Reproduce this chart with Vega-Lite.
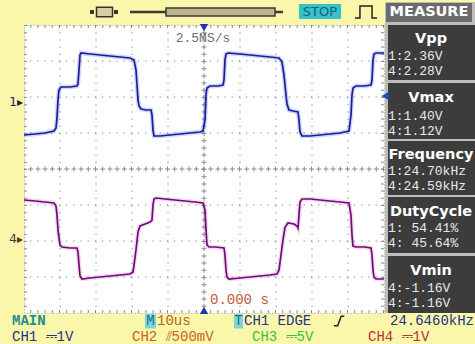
{
"$schema": "https://vega.github.io/schema/vega-lite/v6.json",
"width": 360, "height": 288,
"autosize": {"type": "none"},
"padding": {"left": 24, "top": 25, "right": 91, "bottom": 31},
"background": "#FAF7AA",
"config": {
  "view": {"fill": "#FFFFFF", "stroke": "#9a9a9a", "strokeDash": [1, 2]},
  "axis": {"grid": false, "labels": false, "ticks": false, "domain": false}
},
"data": {"values": [{"annotation": "single"}]},
"datasets": {
"wave": [
{"ch":"CH1","t":-50,"v":0.944},{"ch":"CH1","t":-46.94,"v":0.972},{"ch":"CH1","t":-44.17,"v":1.0},{"ch":"CH1","t":-41.67,"v":1.056},{"ch":"CH1","t":-41.11,"v":1.139},{"ch":"CH1","t":-40.83,"v":1.417},{"ch":"CH1","t":-40.56,"v":1.917},{"ch":"CH1","t":-40.28,"v":2.194},{"ch":"CH1","t":-39.72,"v":2.278},{"ch":"CH1","t":-37.22,"v":2.278},{"ch":"CH1","t":-35.28,"v":2.306},{"ch":"CH1","t":-35.0,"v":2.361},{"ch":"CH1","t":-34.72,"v":2.75},{"ch":"CH1","t":-34.44,"v":3.167},{"ch":"CH1","t":-34.17,"v":3.222},{"ch":"CH1","t":-31.67,"v":3.194},{"ch":"CH1","t":-28.89,"v":3.167},{"ch":"CH1","t":-26.11,"v":3.139},{"ch":"CH1","t":-23.33,"v":3.111},{"ch":"CH1","t":-20.56,"v":3.083},{"ch":"CH1","t":-19.44,"v":3.028},{"ch":"CH1","t":-18.89,"v":2.75},{"ch":"CH1","t":-18.61,"v":2.333},{"ch":"CH1","t":-18.33,"v":1.917},{"ch":"CH1","t":-18.06,"v":1.75},{"ch":"CH1","t":-17.5,"v":1.667},{"ch":"CH1","t":-16.11,"v":1.639},{"ch":"CH1","t":-14.72,"v":1.639},{"ch":"CH1","t":-14.44,"v":1.5},{"ch":"CH1","t":-14.17,"v":1.083},{"ch":"CH1","t":-13.89,"v":0.917},{"ch":"CH1","t":-12.22,"v":0.917},{"ch":"CH1","t":-9.44,"v":0.944},{"ch":"CH1","t":-6.67,"v":0.972},{"ch":"CH1","t":-3.89,"v":1.0},{"ch":"CH1","t":-1.11,"v":1.028},{"ch":"CH1","t":-0.28,"v":1.056},{"ch":"CH1","t":0.28,"v":1.361},{"ch":"CH1","t":0.56,"v":2.056},{"ch":"CH1","t":0.83,"v":2.25},{"ch":"CH1","t":1.67,"v":2.306},{"ch":"CH1","t":3.89,"v":2.306},{"ch":"CH1","t":5.28,"v":2.333},{"ch":"CH1","t":5.56,"v":2.472},{"ch":"CH1","t":5.83,"v":3.028},{"ch":"CH1","t":6.11,"v":3.194},{"ch":"CH1","t":6.67,"v":3.222},{"ch":"CH1","t":10.0,"v":3.194},{"ch":"CH1","t":12.78,"v":3.167},{"ch":"CH1","t":15.56,"v":3.139},{"ch":"CH1","t":18.33,"v":3.111},{"ch":"CH1","t":20.83,"v":3.083},{"ch":"CH1","t":21.67,"v":2.972},{"ch":"CH1","t":22.22,"v":2.611},{"ch":"CH1","t":22.78,"v":2.056},{"ch":"CH1","t":23.06,"v":1.806},{"ch":"CH1","t":23.61,"v":1.639},{"ch":"CH1","t":24.72,"v":1.611},{"ch":"CH1","t":26.11,"v":1.583},{"ch":"CH1","t":26.39,"v":1.361},{"ch":"CH1","t":26.67,"v":1.028},{"ch":"CH1","t":27.22,"v":0.917},{"ch":"CH1","t":29.44,"v":0.917},{"ch":"CH1","t":32.22,"v":0.944},{"ch":"CH1","t":35.0,"v":0.972},{"ch":"CH1","t":37.78,"v":1.0},{"ch":"CH1","t":40.28,"v":1.056},{"ch":"CH1","t":40.83,"v":1.5},{"ch":"CH1","t":41.11,"v":2.056},{"ch":"CH1","t":41.39,"v":2.25},{"ch":"CH1","t":42.22,"v":2.306},{"ch":"CH1","t":44.44,"v":2.306},{"ch":"CH1","t":46.39,"v":2.333},{"ch":"CH1","t":46.67,"v":2.472},{"ch":"CH1","t":46.94,"v":3.028},{"ch":"CH1","t":47.22,"v":3.194},{"ch":"CH1","t":47.78,"v":3.222},{"ch":"CH1","t":50.0,"v":3.222},
{"ch":"CH4","t":-50,"v":-0.861},{"ch":"CH4","t":-46.94,"v":-0.889},{"ch":"CH4","t":-44.17,"v":-0.917},{"ch":"CH4","t":-41.67,"v":-0.944},{"ch":"CH4","t":-41.11,"v":-1.028},{"ch":"CH4","t":-40.83,"v":-1.278},{"ch":"CH4","t":-40.56,"v":-1.694},{"ch":"CH4","t":-40.0,"v":-2.111},{"ch":"CH4","t":-39.44,"v":-2.167},{"ch":"CH4","t":-37.22,"v":-2.194},{"ch":"CH4","t":-35.28,"v":-2.194},{"ch":"CH4","t":-35.0,"v":-2.306},{"ch":"CH4","t":-34.72,"v":-2.667},{"ch":"CH4","t":-34.44,"v":-2.972},{"ch":"CH4","t":-33.89,"v":-3.056},{"ch":"CH4","t":-31.67,"v":-3.028},{"ch":"CH4","t":-28.89,"v":-3.0},{"ch":"CH4","t":-26.11,"v":-2.972},{"ch":"CH4","t":-23.33,"v":-2.944},{"ch":"CH4","t":-20.56,"v":-2.917},{"ch":"CH4","t":-19.72,"v":-2.861},{"ch":"CH4","t":-19.44,"v":-2.667},{"ch":"CH4","t":-18.89,"v":-2.25},{"ch":"CH4","t":-18.33,"v":-1.75},{"ch":"CH4","t":-17.78,"v":-1.583},{"ch":"CH4","t":-16.39,"v":-1.528},{"ch":"CH4","t":-15.0,"v":-1.472},{"ch":"CH4","t":-14.44,"v":-1.417},{"ch":"CH4","t":-14.17,"v":-1.0},{"ch":"CH4","t":-13.89,"v":-0.833},{"ch":"CH4","t":-13.33,"v":-0.806},{"ch":"CH4","t":-10.83,"v":-0.833},{"ch":"CH4","t":-8.06,"v":-0.861},{"ch":"CH4","t":-5.28,"v":-0.889},{"ch":"CH4","t":-2.5,"v":-0.917},{"ch":"CH4","t":-0.28,"v":-0.944},{"ch":"CH4","t":0.28,"v":-1.139},{"ch":"CH4","t":0.56,"v":-1.694},{"ch":"CH4","t":0.83,"v":-2.111},{"ch":"CH4","t":1.39,"v":-2.167},{"ch":"CH4","t":3.06,"v":-2.167},{"ch":"CH4","t":5.56,"v":-2.194},{"ch":"CH4","t":5.83,"v":-2.389},{"ch":"CH4","t":6.11,"v":-2.806},{"ch":"CH4","t":6.39,"v":-3.0},{"ch":"CH4","t":6.94,"v":-3.056},{"ch":"CH4","t":10.0,"v":-3.028},{"ch":"CH4","t":12.78,"v":-3.0},{"ch":"CH4","t":15.56,"v":-2.972},{"ch":"CH4","t":18.33,"v":-2.944},{"ch":"CH4","t":20.28,"v":-2.917},{"ch":"CH4","t":20.83,"v":-2.806},{"ch":"CH4","t":21.39,"v":-2.389},{"ch":"CH4","t":21.94,"v":-1.972},{"ch":"CH4","t":22.5,"v":-1.62},{"ch":"CH4","t":23.33,"v":-1.5},{"ch":"CH4","t":25.0,"v":-1.528},{"ch":"CH4","t":25.83,"v":-1.583},{"ch":"CH4","t":26.11,"v":-1.639},{"ch":"CH4","t":26.39,"v":-1.278},{"ch":"CH4","t":26.67,"v":-0.917},{"ch":"CH4","t":27.22,"v":-0.833},{"ch":"CH4","t":29.44,"v":-0.833},{"ch":"CH4","t":32.22,"v":-0.861},{"ch":"CH4","t":35.0,"v":-0.889},{"ch":"CH4","t":37.78,"v":-0.917},{"ch":"CH4","t":40.28,"v":-0.944},{"ch":"CH4","t":40.83,"v":-1.278},{"ch":"CH4","t":41.11,"v":-1.833},{"ch":"CH4","t":41.39,"v":-2.139},{"ch":"CH4","t":42.22,"v":-2.167},{"ch":"CH4","t":44.72,"v":-2.167},{"ch":"CH4","t":46.39,"v":-2.194},{"ch":"CH4","t":46.67,"v":-2.389},{"ch":"CH4","t":46.94,"v":-2.806},{"ch":"CH4","t":47.22,"v":-3.0},{"ch":"CH4","t":47.78,"v":-3.056},{"ch":"CH4","t":50.0,"v":-3.056}
]
},
"layer": [
{"mark": {"type": "rule", "color": "#7a7a7a", "strokeWidth": 1, "strokeDash": [1.2, 6]}, "encoding": {"x": {"datum": -40, "type": "quantitative", "scale": {"domain": [-50, 50], "nice": false, "zero": false}, "axis": {"title": null}}}},
{"mark": {"type": "rule", "color": "#7a7a7a", "strokeWidth": 1, "strokeDash": [1.2, 6]}, "encoding": {"x": {"datum": -30, "type": "quantitative", "axis": null}}},
{"mark": {"type": "rule", "color": "#7a7a7a", "strokeWidth": 1, "strokeDash": [1.2, 6]}, "encoding": {"x": {"datum": -20, "type": "quantitative", "axis": null}}},
{"mark": {"type": "rule", "color": "#7a7a7a", "strokeWidth": 1, "strokeDash": [1.2, 6]}, "encoding": {"x": {"datum": -10, "type": "quantitative", "axis": null}}},
{"mark": {"type": "rule", "color": "#7a7a7a", "strokeWidth": 1, "strokeDash": [1.2, 6]}, "encoding": {"x": {"datum": 10, "type": "quantitative", "axis": null}}},
{"mark": {"type": "rule", "color": "#7a7a7a", "strokeWidth": 1, "strokeDash": [1.2, 6]}, "encoding": {"x": {"datum": 20, "type": "quantitative", "axis": null}}},
{"mark": {"type": "rule", "color": "#7a7a7a", "strokeWidth": 1, "strokeDash": [1.2, 6]}, "encoding": {"x": {"datum": 30, "type": "quantitative", "axis": null}}},
{"mark": {"type": "rule", "color": "#7a7a7a", "strokeWidth": 1, "strokeDash": [1.2, 6]}, "encoding": {"x": {"datum": 40, "type": "quantitative", "axis": null}}},
{"mark": {"type": "rule", "color": "#7a7a7a", "strokeWidth": 1, "strokeDash": [1.2, 6]}, "encoding": {"y": {"datum": 3, "type": "quantitative", "scale": {"domain": [-4, 4], "nice": false, "zero": false}, "axis": {"title": null}}}},
{"mark": {"type": "rule", "color": "#7a7a7a", "strokeWidth": 1, "strokeDash": [1.2, 6]}, "encoding": {"y": {"datum": 2, "type": "quantitative", "axis": null}}},
{"mark": {"type": "rule", "color": "#7a7a7a", "strokeWidth": 1, "strokeDash": [1.2, 6]}, "encoding": {"y": {"datum": 1, "type": "quantitative", "axis": null}}},
{"mark": {"type": "rule", "color": "#7a7a7a", "strokeWidth": 1, "strokeDash": [1.2, 6]}, "encoding": {"y": {"datum": -1, "type": "quantitative", "axis": null}}},
{"mark": {"type": "rule", "color": "#7a7a7a", "strokeWidth": 1, "strokeDash": [1.2, 6]}, "encoding": {"y": {"datum": -2, "type": "quantitative", "axis": null}}},
{"mark": {"type": "rule", "color": "#7a7a7a", "strokeWidth": 1, "strokeDash": [1.2, 6]}, "encoding": {"y": {"datum": -3, "type": "quantitative", "axis": null}}},

{"mark": {"type": "rect", "color": "#bdbdbd"}, "encoding": {"x": {"datum": 50.28, "type": "quantitative", "axis": null}, "x2": {"datum": 75.28}, "y": {"datum": 4.639, "type": "quantitative", "axis": null}, "y2": {"datum": -4.0}}},
{"mark": {"type": "rect", "color": "#6b6b6b"}, "encoding": {"x": {"datum": 50.56, "type": "quantitative", "axis": null}, "x2": {"datum": 74.44}, "y": {"datum": 4.611, "type": "quantitative", "axis": null}, "y2": {"datum": 4.083}}},
{"mark": {"type": "rect", "color": "#3c3c3c"}, "encoding": {"x": {"datum": 51.11, "type": "quantitative", "axis": null}, "x2": {"datum": 75.28}, "y": {"datum": 4.0, "type": "quantitative", "axis": null}, "y2": {"datum": 2.472}}},
{"mark": {"type": "rect", "color": "#3c3c3c"}, "encoding": {"x": {"datum": 51.11, "type": "quantitative", "axis": null}, "x2": {"datum": 75.28}, "y": {"datum": 2.389, "type": "quantitative", "axis": null}, "y2": {"datum": 0.833}}},
{"mark": {"type": "rect", "color": "#3c3c3c"}, "encoding": {"x": {"datum": 51.11, "type": "quantitative", "axis": null}, "x2": {"datum": 75.28}, "y": {"datum": 0.778, "type": "quantitative", "axis": null}, "y2": {"datum": -0.722}}},
{"mark": {"type": "rect", "color": "#3c3c3c"}, "encoding": {"x": {"datum": 51.11, "type": "quantitative", "axis": null}, "x2": {"datum": 75.28}, "y": {"datum": -0.778, "type": "quantitative", "axis": null}, "y2": {"datum": -2.333}}},
{"mark": {"type": "rect", "color": "#3c3c3c"}, "encoding": {"x": {"datum": 51.11, "type": "quantitative", "axis": null}, "x2": {"datum": 75.28}, "y": {"datum": -2.417, "type": "quantitative", "axis": null}, "y2": {"datum": -4.0}}},

{"mark": {"type": "point", "shape": "square", "size": 16, "filled": true, "color": "#333333", "opacity": 1}, "encoding": {"x": {"datum": -31.11, "type": "quantitative", "axis": null}, "y": {"datum": 4.361, "type": "quantitative", "axis": null}}},
{"mark": {"type": "point", "shape": "square", "size": 16, "filled": true, "color": "#333333", "opacity": 1}, "encoding": {"x": {"datum": -24.44, "type": "quantitative", "axis": null}, "y": {"datum": 4.361, "type": "quantitative", "axis": null}}},
{"mark": {"type": "point", "shape": "M-1,-0.6H1V0.6H-1Z", "size": 256, "filled": true, "fill": "#d8d0a0", "stroke": "#333333", "strokeWidth": 1.5, "opacity": 1}, "encoding": {"x": {"datum": -27.64, "type": "quantitative", "axis": null}, "y": {"datum": 4.361, "type": "quantitative", "axis": null}}},
{"mark": {"type": "rule", "color": "#3a3a3a", "strokeWidth": 2.5}, "encoding": {"x": {"datum": -20.56, "type": "quantitative", "axis": null}, "x2": {"datum": 21.94}, "y": {"datum": 4.361, "type": "quantitative", "axis": null}}},
{"mark": {"type": "rect", "fill": "#bdb78a", "stroke": "#3a3a3a", "strokeWidth": 1.5}, "encoding": {"x": {"datum": -10.56, "type": "quantitative", "axis": null}, "x2": {"datum": 19.72}, "y": {"datum": 4.472, "type": "quantitative", "axis": null}, "y2": {"datum": 4.25}}},
{"mark": {"type": "rect", "color": "#35c3c8"}, "encoding": {"x": {"datum": 26.39, "type": "quantitative", "axis": null}, "x2": {"datum": 38.06}, "y": {"datum": 4.583, "type": "quantitative", "axis": null}, "y2": {"datum": 4.167}}},
{"mark": {"type": "text", "text": "STOP", "font": "DejaVu Sans", "fontSize": 13, "color": "#17607e", "align": "center", "baseline": "middle"}, "encoding": {"x": {"datum": 32.22, "type": "quantitative", "axis": null}, "y": {"datum": 4.361, "type": "quantitative", "axis": null}}},
{"mark": {"type": "point", "shape": "M-1,0.55H-0.55V-0.55H0.55V0.55H1", "size": 484, "filled": false, "stroke": "#222222", "strokeWidth": 1.5, "opacity": 1}, "encoding": {"x": {"datum": 45, "type": "quantitative", "axis": null}, "y": {"datum": 4.361, "type": "quantitative", "axis": null}}},
{"mark": {"type": "text", "text": "MEASURE", "font": "DejaVu Sans", "fontWeight": "bold", "fontSize": 14.5, "color": "#ffffff", "align": "center", "baseline": "middle"}, "encoding": {"x": {"datum": 62.5, "type": "quantitative", "axis": null}, "y": {"datum": 4.361, "type": "quantitative", "axis": null}}},

{"mark": {"type": "rule", "color": "#8a8a8a", "strokeWidth": 5, "strokeDash": [1, 6.2]}, "encoding": {"x": {"datum": 0, "type": "quantitative", "axis": null}}},
{"mark": {"type": "rule", "color": "#8a8a8a", "strokeWidth": 1, "strokeDash": [5, 2.2], "strokeDashOffset": 2}, "encoding": {"x": {"datum": 0, "type": "quantitative", "axis": null}}},
{"mark": {"type": "rule", "color": "#8a8a8a", "strokeWidth": 5, "strokeDash": [1, 6.2]}, "encoding": {"y": {"datum": 0, "type": "quantitative", "axis": null}}},
{"mark": {"type": "rule", "color": "#8a8a8a", "strokeWidth": 1, "strokeDash": [5, 2.2], "strokeDashOffset": 2}, "encoding": {"y": {"datum": 0, "type": "quantitative", "axis": null}}},
{"mark": {"type": "rule", "color": "#8a8a8a", "strokeWidth": 6, "strokeDash": [1, 6.2], "clip": true}, "encoding": {"x": {"datum": -50, "type": "quantitative", "axis": null}}},
{"mark": {"type": "rule", "color": "#8a8a8a", "strokeWidth": 6, "strokeDash": [1, 6.2], "clip": true}, "encoding": {"x": {"datum": 50, "type": "quantitative", "axis": null}}},
{"mark": {"type": "rule", "color": "#8a8a8a", "strokeWidth": 6, "strokeDash": [1, 6.2], "clip": true}, "encoding": {"y": {"datum": 4, "type": "quantitative", "axis": null}}},
{"mark": {"type": "rule", "color": "#8a8a8a", "strokeWidth": 6, "strokeDash": [1, 6.2], "clip": true}, "encoding": {"y": {"datum": -4, "type": "quantitative", "axis": null}}},

{"data": {"name": "wave"}, "mark": {"type": "line", "strokeWidth": 4.5, "opacity": 0.28},
 "encoding": {
  "x": {"field": "t", "type": "quantitative", "axis": null},
  "y": {"field": "v", "type": "quantitative", "axis": null},
  "stroke": {"field": "ch", "type": "nominal", "scale": {"domain": ["CH1", "CH4"], "range": ["#4a6cf0", "#e070e0"]}, "legend": null}
 }},
{"data": {"name": "wave"}, "mark": {"type": "line", "strokeWidth": 1.7},
 "encoding": {
  "x": {"field": "t", "type": "quantitative", "axis": null},
  "y": {"field": "v", "type": "quantitative", "axis": null},
  "color": {"field": "ch", "type": "nominal", "scale": {"domain": ["CH1", "CH4"], "range": ["#1c1c9c", "#6a1070"]}, "legend": null}
 }},

{"mark": {"type": "text", "text": "2.5MS/s", "font": "Liberation Mono", "fontSize": 13, "color": "#707070", "align": "center", "baseline": "middle"}, "encoding": {"x": {"datum": -0.28, "type": "quantitative", "axis": null}, "y": {"datum": 3.639, "type": "quantitative", "axis": null}}},
{"mark": {"type": "point", "shape": "triangle-down", "size": 70, "filled": true, "color": "#2233bb", "opacity": 1}, "encoding": {"x": {"datum": 0, "type": "quantitative", "axis": null}, "y": {"datum": 3.93, "type": "quantitative", "axis": null}}},
{"mark": {"type": "point", "shape": "triangle-up", "size": 70, "filled": true, "color": "#2233bb", "opacity": 1}, "encoding": {"x": {"datum": 0, "type": "quantitative", "axis": null}, "y": {"datum": -3.93, "type": "quantitative", "axis": null}}},
{"mark": {"type": "point", "shape": "triangle-left", "size": 70, "filled": true, "color": "#2244cc", "opacity": 1}, "encoding": {"x": {"datum": 50.3, "type": "quantitative", "axis": null}, "y": {"datum": 2.03, "type": "quantitative", "axis": null}}},
{"mark": {"type": "text", "text": "0.000 s", "font": "Liberation Mono", "fontSize": 14, "color": "#c05a38", "align": "left", "baseline": "middle"}, "encoding": {"x": {"datum": 1.67, "type": "quantitative", "axis": null}, "y": {"datum": -3.639, "type": "quantitative", "axis": null}}},
{"mark": {"type": "text", "text": "1▸", "font": "DejaVu Sans", "fontSize": 12, "color": "#202040", "align": "right", "baseline": "middle"}, "encoding": {"x": {"datum": -50.3, "type": "quantitative", "axis": null}, "y": {"datum": 1.861, "type": "quantitative", "axis": null}}},
{"mark": {"type": "text", "text": "4▸", "font": "DejaVu Sans", "fontSize": 12, "color": "#6a2a2a", "align": "right", "baseline": "middle"}, "encoding": {"x": {"datum": -50.3, "type": "quantitative", "axis": null}, "y": {"datum": -1.944, "type": "quantitative", "axis": null}}},

{"mark": {"type": "text", "text": "Vpp", "font": "DejaVu Sans", "fontWeight": "bold", "fontSize": 14.5, "color": "#ffffff", "align": "center", "baseline": "middle"}, "encoding": {"x": {"datum": 63.06, "type": "quantitative", "axis": null}, "y": {"datum": 3.611, "type": "quantitative", "axis": null}}},
{"mark": {"type": "text", "text": "Vmax", "font": "DejaVu Sans", "fontWeight": "bold", "fontSize": 14.5, "color": "#ffffff", "align": "center", "baseline": "middle"}, "encoding": {"x": {"datum": 63.06, "type": "quantitative", "axis": null}, "y": {"datum": 1.972, "type": "quantitative", "axis": null}}},
{"mark": {"type": "text", "text": "Frequency", "font": "DejaVu Sans", "fontWeight": "bold", "fontSize": 14.5, "color": "#ffffff", "align": "center", "baseline": "middle"}, "encoding": {"x": {"datum": 63.06, "type": "quantitative", "axis": null}, "y": {"datum": 0.389, "type": "quantitative", "axis": null}}},
{"mark": {"type": "text", "text": "DutyCycle", "font": "DejaVu Sans", "fontWeight": "bold", "fontSize": 14.5, "color": "#ffffff", "align": "center", "baseline": "middle"}, "encoding": {"x": {"datum": 63.06, "type": "quantitative", "axis": null}, "y": {"datum": -1.194, "type": "quantitative", "axis": null}}},
{"mark": {"type": "text", "text": "Vmin", "font": "DejaVu Sans", "fontWeight": "bold", "fontSize": 14.5, "color": "#ffffff", "align": "center", "baseline": "middle"}, "encoding": {"x": {"datum": 63.06, "type": "quantitative", "axis": null}, "y": {"datum": -2.833, "type": "quantitative", "axis": null}}},
{"mark": {"type": "text", "text": "1:2.36V", "font": "Liberation Mono", "fontSize": 13, "color": "#e8e8e8", "align": "left", "baseline": "middle"}, "encoding": {"x": {"datum": 51.11, "type": "quantitative", "axis": null}, "y": {"datum": 3.139, "type": "quantitative", "axis": null}}},
{"mark": {"type": "text", "text": "4:2.28V", "font": "Liberation Mono", "fontSize": 13, "color": "#e8e8e8", "align": "left", "baseline": "middle"}, "encoding": {"x": {"datum": 51.11, "type": "quantitative", "axis": null}, "y": {"datum": 2.722, "type": "quantitative", "axis": null}}},
{"mark": {"type": "text", "text": "1:1.40V", "font": "Liberation Mono", "fontSize": 13, "color": "#e8e8e8", "align": "left", "baseline": "middle"}, "encoding": {"x": {"datum": 51.11, "type": "quantitative", "axis": null}, "y": {"datum": 1.472, "type": "quantitative", "axis": null}}},
{"mark": {"type": "text", "text": "4:1.12V", "font": "Liberation Mono", "fontSize": 13, "color": "#e8e8e8", "align": "left", "baseline": "middle"}, "encoding": {"x": {"datum": 51.11, "type": "quantitative", "axis": null}, "y": {"datum": 1.056, "type": "quantitative", "axis": null}}},
{"mark": {"type": "text", "text": "1:24.70kHz", "font": "Liberation Mono", "fontSize": 13, "color": "#e8e8e8", "align": "left", "baseline": "middle"}, "encoding": {"x": {"datum": 51.11, "type": "quantitative", "axis": null}, "y": {"datum": -0.056, "type": "quantitative", "axis": null}}},
{"mark": {"type": "text", "text": "4:24.59kHz", "font": "Liberation Mono", "fontSize": 13, "color": "#e8e8e8", "align": "left", "baseline": "middle"}, "encoding": {"x": {"datum": 51.11, "type": "quantitative", "axis": null}, "y": {"datum": -0.472, "type": "quantitative", "axis": null}}},
{"mark": {"type": "text", "text": "1: 54.41%", "font": "Liberation Mono", "fontSize": 13, "color": "#e8e8e8", "align": "left", "baseline": "middle"}, "encoding": {"x": {"datum": 51.11, "type": "quantitative", "axis": null}, "y": {"datum": -1.639, "type": "quantitative", "axis": null}}},
{"mark": {"type": "text", "text": "4: 45.64%", "font": "Liberation Mono", "fontSize": 13, "color": "#e8e8e8", "align": "left", "baseline": "middle"}, "encoding": {"x": {"datum": 51.11, "type": "quantitative", "axis": null}, "y": {"datum": -2.056, "type": "quantitative", "axis": null}}},
{"mark": {"type": "text", "text": "4:-1.16V", "font": "Liberation Mono", "fontSize": 13, "color": "#e8e8e8", "align": "left", "baseline": "middle"}, "encoding": {"x": {"datum": 51.11, "type": "quantitative", "axis": null}, "y": {"datum": -3.306, "type": "quantitative", "axis": null}}},
{"mark": {"type": "text", "text": "4:-1.16V", "font": "Liberation Mono", "fontSize": 13, "color": "#e8e8e8", "align": "left", "baseline": "middle"}, "encoding": {"x": {"datum": 51.11, "type": "quantitative", "axis": null}, "y": {"datum": -3.722, "type": "quantitative", "axis": null}}},

{"mark": {"type": "text", "text": "MAIN", "font": "Liberation Mono", "fontWeight": "bold", "fontSize": 14, "color": "#1f8f8f", "align": "left", "baseline": "middle"}, "encoding": {"x": {"datum": -53.33, "type": "quantitative", "axis": null}, "y": {"datum": -4.222, "type": "quantitative", "axis": null}}},
{"mark": {"type": "rect", "color": "#7fd6d8"}, "encoding": {"x": {"datum": -16.39, "type": "quantitative", "axis": null}, "x2": {"datum": -13.33}, "y": {"datum": -4.028, "type": "quantitative", "axis": null}, "y2": {"datum": -4.43}}},
{"mark": {"type": "text", "text": "M", "font": "Liberation Mono", "fontSize": 14, "color": "#1f6f8f", "align": "center", "baseline": "middle"}, "encoding": {"x": {"datum": -14.86, "type": "quantitative", "axis": null}, "y": {"datum": -4.222, "type": "quantitative", "axis": null}}},
{"mark": {"type": "text", "text": "10us", "font": "Liberation Mono", "fontSize": 14, "color": "#b06820", "align": "left", "baseline": "middle"}, "encoding": {"x": {"datum": -13.06, "type": "quantitative", "axis": null}, "y": {"datum": -4.222, "type": "quantitative", "axis": null}}},
{"mark": {"type": "rect", "color": "#7fd6d8"}, "encoding": {"x": {"datum": 8.33, "type": "quantitative", "axis": null}, "x2": {"datum": 10.83}, "y": {"datum": -4.028, "type": "quantitative", "axis": null}, "y2": {"datum": -4.43}}},
{"mark": {"type": "text", "text": "T", "font": "Liberation Mono", "fontSize": 14, "color": "#1f6f8f", "align": "center", "baseline": "middle"}, "encoding": {"x": {"datum": 9.58, "type": "quantitative", "axis": null}, "y": {"datum": -4.222, "type": "quantitative", "axis": null}}},
{"mark": {"type": "text", "text": "CH1 EDGE", "font": "Liberation Mono", "fontSize": 14, "color": "#28308a", "align": "left", "baseline": "middle"}, "encoding": {"x": {"datum": 11.11, "type": "quantitative", "axis": null}, "y": {"datum": -4.222, "type": "quantitative", "axis": null}}},
{"mark": {"type": "point", "shape": "M-1,0.8L-0.4,0.8L0.2,-0.8L0.7,-0.8", "size": 144, "filled": false, "stroke": "#222222", "strokeWidth": 1.5, "opacity": 1}, "encoding": {"x": {"datum": 37.78, "type": "quantitative", "axis": null}, "y": {"datum": -4.222, "type": "quantitative", "axis": null}}},
{"mark": {"type": "text", "text": "24.6460kHz", "font": "Liberation Mono", "fontSize": 14, "color": "#28308a", "align": "left", "baseline": "middle"}, "encoding": {"x": {"datum": 51.67, "type": "quantitative", "axis": null}, "y": {"datum": -4.222, "type": "quantitative", "axis": null}}},
{"mark": {"type": "text", "text": "CH1 ⎓1V", "font": "Liberation Mono", "fontSize": 14, "color": "#28308a", "align": "left", "baseline": "middle"}, "encoding": {"x": {"datum": -53.33, "type": "quantitative", "axis": null}, "y": {"datum": -4.667, "type": "quantitative", "axis": null}}},
{"mark": {"type": "text", "text": "CH2 ⫽500mV", "font": "Liberation Mono", "fontSize": 14, "color": "#c86420", "align": "left", "baseline": "middle"}, "encoding": {"x": {"datum": -20.0, "type": "quantitative", "axis": null}, "y": {"datum": -4.667, "type": "quantitative", "axis": null}}},
{"mark": {"type": "text", "text": "CH3 ⎓5V", "font": "Liberation Mono", "fontSize": 14, "color": "#3cc03c", "align": "left", "baseline": "middle"}, "encoding": {"x": {"datum": 13.33, "type": "quantitative", "axis": null}, "y": {"datum": -4.667, "type": "quantitative", "axis": null}}},
{"mark": {"type": "text", "text": "CH4 ⎓1V", "font": "Liberation Mono", "fontSize": 14, "color": "#b83040", "align": "left", "baseline": "middle"}, "encoding": {"x": {"datum": 45.56, "type": "quantitative", "axis": null}, "y": {"datum": -4.667, "type": "quantitative", "axis": null}}}
]
}
